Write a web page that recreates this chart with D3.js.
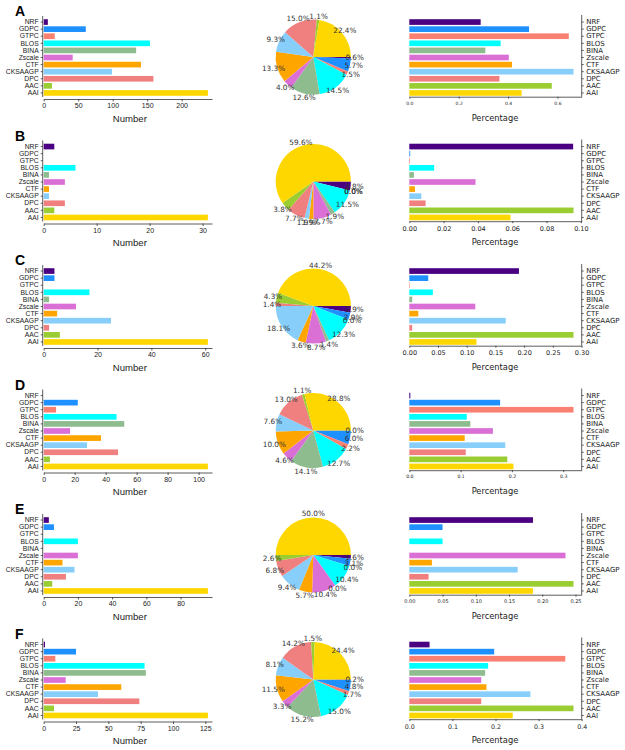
<!DOCTYPE html>
<html><head><meta charset="utf-8">
<script src="https://cdn.jsdelivr.net/npm/d3@7"></script>
<style>body{margin:0;background:#fff}svg{display:block}</style>
</head><body><svg id="c" width="625" height="750"></svg>
<script>
const categories = ["NRF","GDPC","GTPC","BLOS","BINA","Zscale","CTF","CKSAAGP","DPC","AAC","AAI"];
const colors = ["#4b0082","#1e90ff","#fa8072","#00ffff","#8fbc8f","#da70d6","#ffa500","#87cefa","#f08080","#9acd32","#ffd700"];
const panelLetters = ["A","B","C","D","E","F"];

// Number (left bar charts)
const numberA = [6,61,16,154,134,42,141,99,159,12,238];
const numberB = [2,0,0,6,1,4,1,1,4,2,31];
const numberC = [4,4,0,17,2,12,5,25,2,6,61];
const numberD = [0,22,8,47,52,17,37,28,48,4,106];
const numberE = [3,6,0,20,0,20,11,18,13,5,96];
const numberF = [1,25,9,78,79,17,60,42,74,8,127];

// Pie percentages (middle)
const pieA = [0.6,5.7,1.5,14.5,12.6,4.0,13.3,9.3,15.0,1.1,22.4];
const pieB = [3.8,0.0,0.0,11.5,1.9,7.7,1.9,1.9,7.7,3.8,59.6];
const pieC = [2.9,2.9,0.0,12.3,1.4,8.7,3.6,18.1,1.4,4.3,44.2];
const pieD = [0.0,6.0,2.2,12.7,14.1,4.6,10.0,7.6,13.0,1.1,28.8];
const pieE = [1.6,3.1,0.0,10.4,0.0,10.4,5.7,9.4,6.8,2.6,50.0];
const pieF = [0.2,4.8,1.7,15.0,15.2,3.3,11.5,8.1,14.2,1.5,24.4];

// Percentage (right bar charts)
const percentA = [0.289,0.485,0.646,0.370,0.308,0.403,0.416,0.665,0.365,0.577,0.455];
const percentB = [0.0955,0.0005,0.0004,0.0145,0.0027,0.0386,0.0033,0.0070,0.0095,0.0957,0.0590];
const percentC = [0.191,0.033,0.001,0.041,0.005,0.115,0.0157,0.168,0.005,0.286,0.117];
const percentD = [0.002,0.177,0.320,0.112,0.119,0.163,0.108,0.187,0.110,0.191,0.203];
const percentE = [0.186,0.050,0.0,0.050,0.0,0.235,0.034,0.163,0.029,0.247,0.186];
const percentF = [0.047,0.197,0.362,0.183,0.176,0.167,0.179,0.281,0.167,0.381,0.240];

// tick labels
const leftTicksA = [0,50,100,150,200];
const leftTicksB = [0,10,20,30];
const leftTicksC = [0,20,40,60];
const leftTicksD = [0,20,40,60,80,100];
const leftTicksE = [0,20,40,60,80];
const leftTicksF = [0,25,50,75,100,125];
const rightTicksA = [0,0.2,0.4,0.6];
const rightTicksB = [0,0.02,0.04,0.06,0.08,0.10];
const rightTicksC = [0,0.05,0.10,0.15,0.20,0.25,0.30];
const rightTicksD = [0,0.1,0.2,0.3];
const rightTicksE = [0,0.05,0.10,0.15,0.20,0.25];
const rightTicksF = [0,0.1,0.2,0.3,0.4];

const numbers = [numberA,numberB,numberC,numberD,numberE,numberF];
const pies = [pieA,pieB,pieC,pieD,pieE,pieF];
const percents = [percentA,percentB,percentC,percentD,percentE,percentF];
const leftTicks = [leftTicksA,leftTicksB,leftTicksC,leftTicksD,leftTicksE,leftTicksF];
const rightTicks = [rightTicksA,rightTicksB,rightTicksC,rightTicksD,rightTicksE,rightTicksF];
const rightFmt = [".1f",".2f",".2f",".1f",".2f",".1f"];
const rightTickFont = [4.5,6.5,6.5,4.6,5,6.3];

const svg = d3.select("#c");
const rowStep = 124.5;
const axisColor = "#333";

panelLetters.forEach((letter, i) => {
  const top = i * rowStep;
  const g = svg.append("g").attr("transform", `translate(0,${top})`);

  g.append("text").attr("x", 15).attr("y", 16).text(letter)
    .attr("font-family", "Liberation Sans, Arial, sans-serif")
    .attr("font-weight", "bold").attr("font-size", 14).attr("fill", "#000");

  const y = d3.scaleBand().domain(categories).range([18.5, 96.5]).paddingInner(0.2).paddingOuter(0.1);

  // ---- left bar chart ----
  const nums = numbers[i];
  const xl = d3.scaleLinear().domain([0, d3.max(nums) * 1.025]).range([43.7, 212]);
  const gl = g.append("g");
  gl.selectAll("rect").data(nums).join("rect")
    .attr("x", xl(0)).attr("y", (d, k) => y(categories[k]))
    .attr("width", d => xl(d) - xl(0)).attr("height", y.bandwidth())
    .attr("fill", (d, k) => colors[k]);

  const yAxL = gl.append("g").attr("transform", "translate(42.7,0)")
    .call(d3.axisLeft(y).tickSize(2).tickPadding(2));
  yAxL.select(".domain").remove();
  yAxL.selectAll("line").attr("stroke", axisColor).attr("stroke-width", 0.8);
  yAxL.selectAll("text").attr("font-family", "Liberation Sans, Arial, sans-serif")
    .attr("font-size", 6.8).attr("fill", "#222");
  gl.append("line").attr("x1", 42.7).attr("x2", 42.7).attr("y1", 16).attr("y2", 97)
    .attr("stroke", axisColor).attr("stroke-width", 0.8);

  const xAxL = gl.append("g").attr("transform", "translate(0,99)")
    .call(d3.axisBottom(xl).tickValues(leftTicks[i]).tickSize(2.5).tickSizeOuter(0).tickPadding(2));
  xAxL.select(".domain").attr("stroke", axisColor).attr("stroke-width", 0.8);
  xAxL.selectAll("line").attr("stroke", axisColor).attr("stroke-width", 0.8);
  xAxL.selectAll("text").attr("font-family", "Liberation Sans, Arial, sans-serif")
    .attr("font-size", 7).attr("fill", "#222");
  gl.append("text").attr("x", (xl.range()[0] + xl.range()[1]) / 2 + 2).attr("y", 121.5)
    .attr("text-anchor", "middle").text("Number")
    .attr("font-family", "Liberation Sans, Arial, sans-serif").attr("font-size", 9.6).attr("fill", "#222");

  // ---- pie ----
  const r = 37.6;
  const gp = g.append("g").attr("transform", "translate(313.3,57)");
  const pie = d3.pie().value(d => d).sort(null)
    .startAngle(Math.PI / 2).endAngle(Math.PI / 2 + 2 * Math.PI);
  const arcs = pie(pies[i]);
  const arc = d3.arc().innerRadius(0).outerRadius(r);
  const labelArc = d3.arc().innerRadius(r * 1.1).outerRadius(r * 1.1);
  gp.selectAll("path").data(arcs).join("path")
    .attr("d", arc).attr("fill", (d, k) => colors[k]);
  gp.selectAll("text").data(arcs).join("text")
    .attr("transform", d => `translate(${labelArc.centroid(d)})`)
    .attr("text-anchor", "middle").attr("dy", "0.35em")
    .text(d => d.data.toFixed(1) + "%")
    .attr("font-family", "DejaVu Sans, sans-serif").attr("font-size", 7.3).attr("fill", "#333");

  // ---- right bar chart ----
  const pct = percents[i];
  const xr = d3.scaleLinear().domain([0, d3.max(pct) * 1.05]).range([409.3, 581.7]);
  const gr = g.append("g");
  gr.selectAll("rect").data(pct).join("rect")
    .attr("x", xr(0)).attr("y", (d, k) => y(categories[k]))
    .attr("width", d => xr(d) - xr(0)).attr("height", y.bandwidth())
    .attr("fill", (d, k) => colors[k]);

  const yAxR = gr.append("g").attr("transform", "translate(581.7,0)")
    .call(d3.axisRight(y).tickSize(2).tickPadding(2.5));
  yAxR.select(".domain").remove();
  yAxR.selectAll("line").attr("stroke", axisColor).attr("stroke-width", 0.8);
  yAxR.selectAll("text").attr("font-family", "DejaVu Sans, sans-serif")
    .attr("font-size", 7).attr("fill", "#222");
  gr.append("line").attr("x1", 581.7).attr("x2", 581.7).attr("y1", 15).attr("y2", 96.7)
    .attr("stroke", axisColor).attr("stroke-width", 0.8);

  const xAxR = gr.append("g").attr("transform", "translate(0,96.7)")
    .call(d3.axisBottom(xr).tickValues(rightTicks[i]).tickFormat(d3.format(rightFmt[i]))
      .tickSize(2).tickSizeOuter(0).tickPadding(3));
  xAxR.select(".domain").attr("stroke", axisColor).attr("stroke-width", 0.8);
  xAxR.selectAll("line").attr("stroke", axisColor).attr("stroke-width", 0.8);
  xAxR.selectAll("text").attr("font-family", "DejaVu Sans, sans-serif")
    .attr("font-size", rightTickFont[i]).attr("fill", "#222");
  gr.append("text").attr("x", 495).attr("y", 120.5).attr("text-anchor", "middle").text("Percentage")
    .attr("font-family", "DejaVu Sans, sans-serif").attr("font-size", 8.3).attr("fill", "#222");
});
</script>
</body></html>
